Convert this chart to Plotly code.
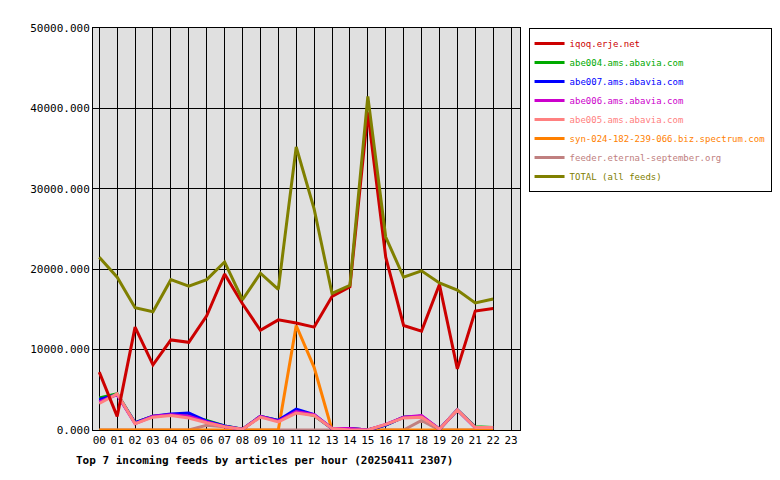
import plotly.graph_objects as go

hours = [f"{h:02d}" for h in range(24)]
x_hours = hours[:23]

names = ["iqoq.erje.net", "abe004.ams.abavia.com", "abe007.ams.abavia.com",
         "abe006.ams.abavia.com", "abe005.ams.abavia.com",
         "syn-024-182-239-066.biz.spectrum.com", "feeder.eternal-september.org",
         "TOTAL (all feeds)"]
colors = ["#cc0000", "#00aa00", "#0000ff", "#cc00cc", "#ff8080", "#ff8000", "#c08080", "#808000"]

iqoq = [7200, 1700, 12800, 8100, 11200, 10900, 14200, 19400, 15700, 12400, 13700, 13300,
        12800, 16600, 17800, 39500, 21500, 13000, 12300, 18100, 7600, 14800, 15100]
abe004 = [4000, 4500, 900, 1700, 1900, 1700, 1200, 500, 100, 1700, 1200, 2300,
          1800, 200, 200, 0, 600, 1600, 1700, 100, 2500, 400, 300]
abe007 = [3800, 4400, 900, 1700, 2000, 2100, 1100, 500, 100, 1700, 1200, 2600,
          1900, 200, 200, 0, 600, 1600, 1700, 100, 2500, 300, 300]
abe006 = [3500, 4400, 800, 1700, 1900, 1700, 1000, 400, 100, 1700, 1100, 2300,
          1900, 200, 200, 0, 700, 1600, 1800, 100, 2500, 300, 300]
abe005 = [3300, 4500, 800, 1600, 1800, 1500, 900, 400, 100, 1600, 1000, 2100,
          1800, 200, 0, 0, 700, 1500, 1600, 100, 2500, 300, 300]
syn = [0, 0, 0, 0, 0, 0, 0, 0, 0, 0, 0, 13000,
       7800, 0, 0, 0, 0, 0, 0, 0, 0, 0, 0]
feeder = [0, 0, 0, 0, 0, 0, 600, 400, 0, 0, 0, 0,
          0, 0, 0, 0, 0, 0, 1200, 0, 0, 0, 0]
total = [21500, 19000, 15200, 14700, 18700, 17900, 18700, 20900, 16200, 19500, 17500, 35200,
         27500, 17000, 18000, 41500, 24000, 19000, 19800, 18300, 17400, 15800, 16300]
y_ticks = [0, 10000, 20000, 30000, 40000, 50000]
y_labels = ["0.000", "10000.000", "20000.000", "30000.000", "40000.000", "50000.000"]

series = [iqoq, abe004, abe007, abe006, abe005, syn, feeder, total]

fig = go.Figure()
order = [6, 5, 1, 2, 3, 4, 0, 7]
for i in order:
    fig.add_trace(go.Scatter(
        x=x_hours, y=series[i], mode="lines",
        name=f"<span style='color:{colors[i]}'>{names[i]}</span>",
        line=dict(color=colors[i], width=3), legendrank=i + 1))

fig.update_layout(
    width=780, height=480, paper_bgcolor="white", plot_bgcolor="#e0e0e0",
    margin=dict(l=85, r=268, t=20, b=58, autoexpand=False),
    font=dict(family="DejaVu Sans Mono", size=11, color="black"),
    showlegend=True,
    legend=dict(x=1.02, y=1.0, xanchor="left", yanchor="top",
                bordercolor="black", borderwidth=1, bgcolor="white",
                font=dict(size=9), tracegroupgap=0, itemwidth=30),
    xaxis=dict(type="category", categoryorder="array", categoryarray=hours,
               range=[-0.35, 23.5], showgrid=True, gridcolor="black", gridwidth=1,
               showline=True, linecolor="black", mirror=True, ticks="", automargin=False,
               tickvals=hours, ticktext=hours, tickfont=dict(size=11)),
    yaxis=dict(range=[0, 50000], tickvals=y_ticks, ticktext=y_labels, automargin=False,
               showgrid=True, gridcolor="black", gridwidth=1, zeroline=False,
               showline=True, linecolor="black", mirror=True, ticks="", tickfont=dict(size=11)),
    annotations=[dict(text="<b>Top 7 incoming feeds by articles per hour (20250411 2307)</b>",
                      xref="paper", yref="paper", x=-0.045, y=-0.055, xanchor="left",
                      yanchor="top", showarrow=False, font=dict(size=11))],
)
fig.write_html("out.html")
